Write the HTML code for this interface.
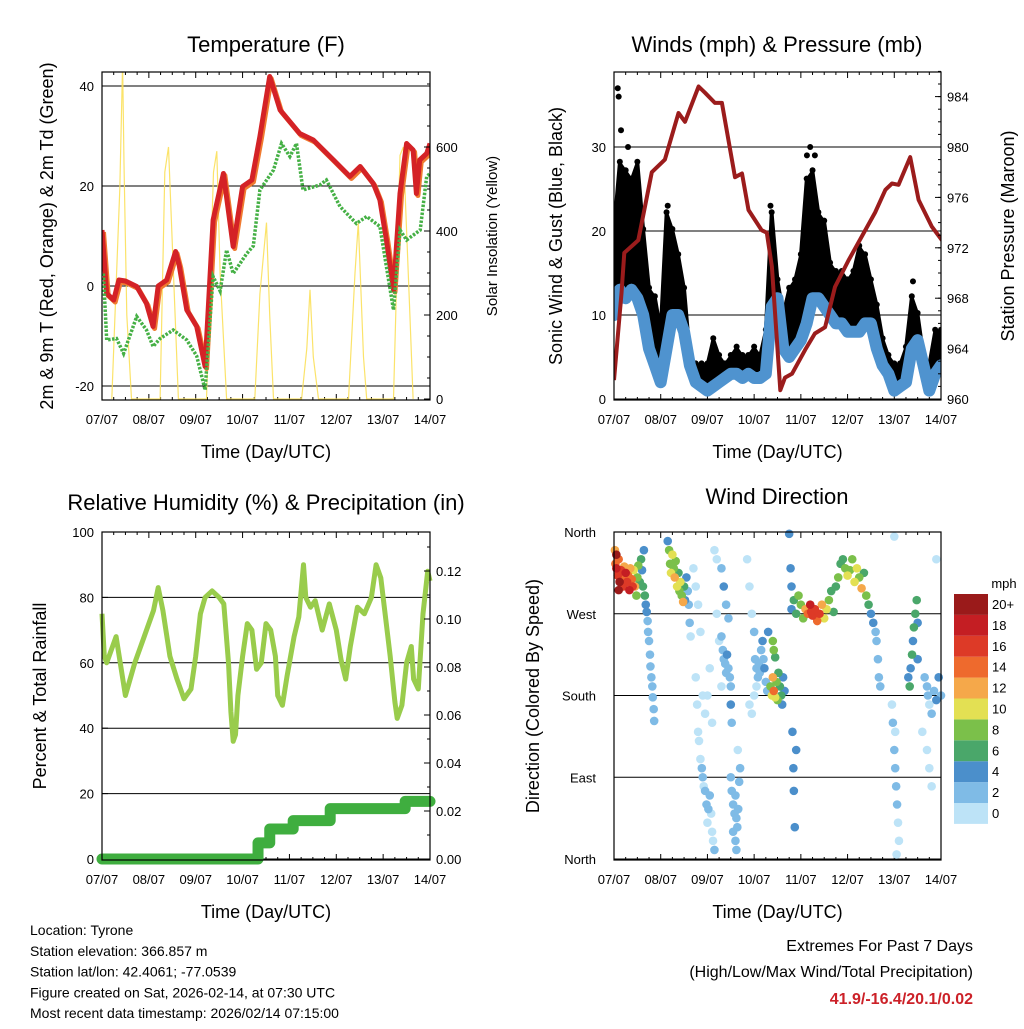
<!DOCTYPE html>
<html><head><meta charset="utf-8"><style>
html,body{margin:0;padding:0;background:#fff}
svg text{font-family:"Liberation Sans",Arial,sans-serif;fill:#000}
</style></head><body>
<svg id="s" width="1024" height="1024" viewBox="0 0 1024 1024" xmlns="http://www.w3.org/2000/svg">
<g id="g"></g>
</svg>
<script>
// ---------- DATA ----------
const dayLabels=["07/07","08/07","09/07","10/07","11/07","12/07","13/07","14/07"];
const tempTicks=[40,20,0,-20];
const solarTicks=[600,400,200,0];
const windTicks=[0,10,20,30];
const presTicks=[960,964,968,972,976,980,984];
const rhTicks=[0,20,40,60,80,100];
const precTicks=[0.00,0.02,0.04,0.06,0.08,0.10,0.12];
const dirTicks=["North","East","South","West","North"];
const speedBins=["0","2","4","6","8","10","12","14","16","18","20+"];
const speedColors=["#bde3f7","#7fbbe6","#4b8fcb","#4aa76a","#7bc04a","#e3e053","#f5a84a","#ee6a2d","#dd3a27","#c41e23","#9a1a1a"];

const tempT=[0,0.1,0.25,0.36,0.5,0.74,0.95,1.09,1.2,1.38,1.57,1.65,1.81,2.02,2.2,2.37,2.59,2.8,3.0,3.2,3.37,3.58,3.8,4.22,4.51,4.94,5.29,5.51,5.79,5.93,6.07,6.22,6.36,6.5,6.64,6.71,6.78,6.93,7.0];
const tempR=[11.2,-1.5,-2.8,1.2,1.0,-0.1,-3.5,-8.1,0,1.2,6.9,4,-4.8,-8.1,-16.1,13.2,22.5,7.9,19.9,21.2,29.9,41.9,35.2,30.5,29.2,25.2,21.9,23.9,20.5,17.2,9.2,-0.8,18.5,28.5,27.2,18.5,25.2,26.5,28.5];
const dewT=[0.03,0.1,0.31,0.46,0.74,0.95,1.09,1.24,1.52,1.81,2.02,2.2,2.37,2.52,2.66,2.8,3.09,3.23,3.37,3.66,3.83,4.01,4.15,4.29,4.65,4.79,5.08,5.43,5.65,5.93,6.07,6.22,6.36,6.5,6.79,6.93,7.0];
const dewV=[2.5,-10.8,-10.5,-13.5,-6.1,-8.8,-12.1,-10.5,-8.8,-10.8,-14,-20.8,1.9,-1,7.2,2.5,6.5,8,19.2,23.2,28.5,25.9,28.5,19.2,20.2,21.2,15.9,12.5,13.9,11.9,3.9,-4.8,11.2,9.2,11.2,21.9,22.5];
const solarT=[0.21,0.38,0.44,0.47,0.53,0.63, 1.24,1.34,1.42,1.49,1.63, 2.23,2.38,2.45,2.52,2.66, 3.26,3.37,3.51,3.58,3.66, 4.26,4.37,4.44,4.51,4.62, 5.26,5.4,5.47,5.58,5.65, 6.22,6.36,6.43,6.57,6.64];
const solarV=[0,500,800,560,200,0, 0,540,600,400,0, 0,540,590,300,0, 0,250,420,200,0, 0,120,260,100,0, 0,300,420,100,0, 0,580,600,200,0];

const windT=[0,.125,.25,.375,.5,.625,.75,.875,1,1.125,1.25,1.375,1.5,1.625,1.75,1.875,2,2.125,2.25,2.375,2.5,2.625,2.75,2.875,3,3.125,3.25,3.375,3.5,3.625,3.75,3.875,4,4.125,4.25,4.375,4.5,4.625,4.75,4.875,5,5.125,5.25,5.375,5.5,5.625,5.75,5.875,6,6.125,6.25,6.375,6.5,6.625,6.75,6.875,7];
const windMean=[10,13,12,13,12,10,6,4,2,6,10,10,8,4,2,1.5,1,1.5,2,2.5,3,3,2.5,3,2.5,2.5,3,11,12,6,5,6,7,9,12,12,11,10,9,9,8,8,8,9,9,6,4,3,1,1.5,2,6,7,4,1,3,4];
const windGust=[20,28,27,26,28,20,13,12,8,22,20,17,13,5,4,4,4,7,5,4,5,6,5,5,6,5,8,22,14,10,13,14,17,26,27,22,21,16,15,15,14,15,18,17,14,11,7,5,4,4,6,12,10,5,4,8,8];
const gustOutT=[0.08,0.1,0.15,0.3,4.13,4.2,4.3,1.15,3.35,6.4];
const gustOutV=[37,36,32,30,29,30,29,23,23,14];
const presT=[0,0.16,0.22,0.52,0.81,1.09,1.38,1.52,1.81,1.95,2.16,2.31,2.59,2.74,2.88,3.16,3.27,3.38,3.56,3.66,3.81,4.09,4.3,4.52,4.73,5.02,5.59,5.59,5.81,5.95,6.09,6.34,6.52,6.8,7.02];
const presV=[961.5,968.4,971.6,972.6,978,979,982.7,982,984.8,984.3,983.5,983.5,977.6,977.9,975,973.4,973.2,970.5,960.7,961.7,962,963.9,965.2,965.7,968.9,971,974.8,974.8,976.6,977.1,977,979.2,975.8,973.7,972.6];

const rhT=[0,0.05,0.1,0.3,0.5,0.7,0.9,1.1,1.2,1.3,1.45,1.6,1.75,1.9,2.0,2.1,2.2,2.35,2.5,2.6,2.7,2.75,2.8,2.85,2.9,3.0,3.1,3.2,3.3,3.4,3.5,3.6,3.7,3.75,3.85,3.95,4.1,4.2,4.3,4.35,4.45,4.55,4.7,4.85,5.0,5.1,5.2,5.3,5.45,5.6,5.75,5.85,5.95,6.05,6.15,6.25,6.3,6.4,6.5,6.6,6.65,6.75,6.85,6.95,7.0];
const rhV=[75,62,60,68,50,60,68,76,83,76,62,55,49,52,62,75,80,82,80,78,60,45,36,38,50,62,72,70,58,60,72,70,62,50,47,56,68,74,90,80,77,79,70,78,70,61,55,65,77,75,80,90,86,74,62,48,43,47,60,65,55,52,75,88,85];
const precT=[0,3.33,3.58,4.08,4.87,6.47,7.0];
const precV=[0,0.0067,0.0125,0.016,0.021,0.024,0.024];

const dirT=[0.02,0.03,0.05,0.08,0.1,0.12,0.15,0.18,0.2,0.22,0.25,0.28,0.3,0.33,0.35,0.38,0.4,0.42,0.45,0.48,0.5,0.52,0.55,0.58,0.6,0.62,0.64,0.66,0.68,0.7,0.72,0.73,0.75,0.77,0.78,0.8,0.82,0.83,0.85,0.86,0.05,0.1,
1.15,1.18,1.2,1.22,1.25,1.28,1.3,1.32,1.35,1.38,1.4,1.42,1.45,1.48,1.5,1.52,1.55,1.58,1.6,1.62,1.64,
1.7,1.75,1.8,1.85,1.75,1.78,1.8,1.82,1.85,1.88,1.9,1.92,1.95,1.98,2.0,2.02,2.05,2.08,2.1,2.12,2.15,2.0,2.05,2.1,2.15,2.2,2.2,2.25,2.3,1.9,1.95,
2.3,2.33,2.35,2.38,2.4,2.42,2.45,2.48,2.5,2.35,2.4,2.45,2.5,2.52,2.3,
2.5,2.52,2.55,2.58,2.6,2.62,2.64,2.66,2.55,2.6,2.62,2.68,2.7,2.65,
2.85,2.9,2.95,3.0,3.02,3.05,3.08,3.1,3.12,3.15,3.18,3.2,3.22,3.25,3.28,3.3,2.9,2.95,3.0,3.05,
3.35,3.38,3.4,3.42,3.45,3.48,3.5,3.52,3.55,3.58,3.6,3.62,3.65,3.4,3.42,3.45,
3.75,3.78,3.8,3.82,3.84,3.85,3.87,3.9,
3.8,3.85,3.9,3.95,4.0,4.05,4.1,4.15,4.2,4.25,4.3,4.35,4.4,4.45,4.5,4.55,4.6,4.65,4.7,4.22,4.32,
4.75,4.8,4.85,4.9,4.95,5.0,5.05,5.1,5.15,5.2,5.25,5.3,5.35,5.4,5.45,5.5,5.55,5.6,5.62,5.65,5.67,5.7,
5.95,5.97,6.0,6.02,6.04,6.06,6.08,6.1,6.05,6.02,6.0,
6.3,6.33,6.35,6.38,6.4,6.42,6.45,6.48,6.5,6.5,
6.65,6.7,6.72,6.75,6.8,6.85,6.9,6.95,7.0,6.7,6.75,6.8,6.6,6.9];
const dirV=[340,325,320,312,330,305,318,310,300,322,315,305,312,296,320,308,300,318,300,290,310,323,305,330,318,300,340,290,280,272,262,250,240,225,212,200,190,178,165,152,335,296,
350,340,325,315,335,320,310,328,300,315,295,305,290,283,300,285,310,295,280,260,245,
320,300,280,250,200,170,140,130,110,100,90,80,75,60,40,55,70,50,30,20,10,180,210,150,340,330,270,240,190,180,160,
245,230,220,215,205,225,210,200,190,300,280,265,170,150,320,
90,75,60,50,70,45,35,55,30,20,10,85,100,120,
330,300,270,250,220,210,200,215,205,230,240,220,210,195,185,250,170,160,180,190,
190,180,200,185,178,195,175,205,190,180,170,200,185,240,230,222,
358,320,300,140,100,75,35,120,
275,285,270,290,280,265,275,270,280,268,275,262,270,280,265,275,285,295,272,272,268,
300,310,325,330,320,312,318,330,305,320,310,298,315,290,280,270,260,250,240,220,200,190,
170,150,120,100,80,60,40,20,5,140,355,
200,190,210,225,240,255,270,285,260,220,
200,190,180,170,160,185,175,200,180,120,100,80,140,330];
const dirS=[12,14,18,16,15,20,17,14,16,13,18,17,15,18,12,14,16,10,12,9,8,9,7,6,5,6,4,7,5,4,3,2,2,3,2,2,2,2,2,2,20,21,
4,8,9,11,10,8,12,9,10,7,9,10,8,12,6,5,4,3,3,2,1,
1,0,1,0,1,0,0,1,1,2,2,1,2,2,1,3,2,0,1,0,2,1,0,1,1,0,1,1,0,0,1,
3,2,2,3,2,4,3,2,3,4,3,2,4,3,2,
3,2,3,2,3,2,3,2,2,3,2,3,3,1,
1,1,1,2,2,2,3,2,3,3,4,3,4,3,3,4,1,0,1,1,
8,10,12,14,11,9,8,7,6,7,5,4,4,8,8,6,
4,4,4,4,4,4,4,4,
5,7,6,8,9,8,12,15,18,16,17,14,16,12,11,10,8,7,6,16,15,
7,9,7,6,8,10,9,8,11,10,9,12,7,8,6,5,4,3,3,2,3,2,
1,2,2,3,2,2,1,1,0,1,0,
5,6,4,6,5,6,7,7,5,4,
2,3,2,1,2,3,4,4,3,1,1,1,1,1];

// ---------- HELPERS ----------
const NS="http://www.w3.org/2000/svg";
const root=document.getElementById('g');
function el(tag,attrs,parent,txt){const e=document.createElementNS(NS,tag);for(const k in attrs)e.setAttribute(k,attrs[k]);if(txt!==undefined)e.textContent=txt;(parent||root).appendChild(e);return e;}
function lin(d0,d1,r0,r1){return v=>r0+(v-d0)*(r1-r0)/(d1-d0);}
function pathFrom(xs,ys,fx,fy){return xs.map((t,i)=>(i?'L':'M')+fx(t).toFixed(1)+','+fy(ys[i]).toFixed(1)).join('');}
function bandPath(xs,hi,lo,fx,fy){let d=pathFrom(xs,hi,fx,fy);for(let i=xs.length-1;i>=0;i--)d+='L'+fx(xs[i]).toFixed(1)+','+fy(lo[i]).toFixed(1);return d+'Z';}

function frame(name){
  const g=el('g',{});
  
  
  return g;
}
function xAxis(g,x0,x1,y0,y1){
  const fx=lin(0,7,x0,x1);
  dayLabels.forEach((l,i)=>{
    const x=fx(i);
    el('line',{x1:x,x2:x,y1:y1,y2:y1-6,stroke:'#000','stroke-width':1},g);
    el('line',{x1:x,x2:x,y1:y0,y2:y0+6,stroke:'#000','stroke-width':1},g);
    const t=el('text',{x:x,y:y1+24,'text-anchor':'middle','font-size':13},g,l);
    
    
    if(i<7)for(let k=1;k<4;k++){const xm=fx(i+k/4);el('line',{x1:xm,x2:xm,y1:y1,y2:y1-3,stroke:'#000'},g);el('line',{x1:xm,x2:xm,y1:y0,y2:y0+3,stroke:'#000'},g);}
  });
  const t=el('text',{x:(x0+x1)/2,y:y1+58,'text-anchor':'middle','font-size':18},g,'Time (Day/UTC)');
  
  
  return fx;
}
function box(g,x0,y0,x1,y1){el('rect',{x:x0,y:y0,width:x1-x0,height:y1-y0,fill:'none',stroke:'#000','stroke-width':1.2},g);}
function title(g,x,y,txt,size){const t=el('text',{x:x,y:y,'text-anchor':'middle','font-size':size||22},g,txt);}
function vlabel(g,x,y,txt){const t=el('text',{x:x,y:y,'text-anchor':'middle','font-size':18,transform:`rotate(-90 ${x} ${y})`},g,txt);}
function vlabelR(g,x,y,txt,size){const t=el('text',{x:x,y:y,'text-anchor':'middle','font-size':size||18,transform:`rotate(-90 ${x} ${y})`},g,txt);}
function yTicksL(g,ticks,fy,x0,x1,fmt,grid){
  ticks.forEach(v=>{const y=fy(v);
    if(grid)el('line',{x1:x0,x2:x1,y1:y,y2:y,stroke:'#000','stroke-width':1},g);
    el('line',{x1:x0,x2:x0+6,y1:y,y2:y,stroke:'#000'},g);
    const t=el('text',{x:x0-8,y:y+5,'text-anchor':'end','font-size':13},g,fmt?fmt(v):String(v));
    });
}
function yTicksR(g,ticks,fy,x1,fmt,minorStep,lo,hi){
  ticks.forEach(v=>{const y=fy(v);
    el('line',{x1:x1-6,x2:x1,y1:y,y2:y,stroke:'#000'},g);
    const t=el('text',{x:x1+6,y:y+5,'text-anchor':'start','font-size':13},g,fmt?fmt(v):String(v));
    });
  if(minorStep)for(let v=lo;v<=hi+1e-9;v+=minorStep){const y=fy(v);el('line',{x1:x1-3,x2:x1,y1:y,y2:y,stroke:'#000'},g);}
}

// ---------- PANEL 1: TEMPERATURE ----------
(function(){
  const X0=102,X1=430,Y0=72,Y1=400;
  const g=frame('temperature-panel');
  const fy=lin(0,20,286,186);
  const fs=lin(0,200,399,315);
  el('clipPath',{id:'c1'},g).appendChild(el('rect',{x:X0,y:Y0,width:X1-X0,height:Y1-Y0},g));
  yTicksL(g,tempTicks,fy,X0,X1,null,true);
  const fx=xAxis(g,X0,X1,Y0,Y1);
  const cg=el('g',{'clip-path':'url(#c1)'},g);
  const sol=el('path',{d:pathFrom(solarT,solarV,fx,fs),fill:'none',stroke:'#fbe05a','stroke-width':1.2,opacity:0.9},cg);
  
  const o=el('path',{d:pathFrom(tempT,tempR,t=>fx(t)+1.5,v=>fy(v)+2),fill:'none',stroke:'#f07a30','stroke-width':5,'stroke-linejoin':'round'},cg);
  
  const r=el('path',{d:pathFrom(tempT,tempR,fx,fy),fill:'none',stroke:'#d42226','stroke-width':5,'stroke-linejoin':'round'},cg);
  
  const d=el('path',{d:pathFrom(dewT,dewV,fx,fy),fill:'none',stroke:'#45b045','stroke-width':3.5,'stroke-dasharray':'2.5 1.5'},cg);
  
  yTicksR(g,solarTicks,fs,X1,null,50,0,750);
  box(g,X0,Y0,X1,Y1);
  title(g,266,52,'Temperature (F)');
  vlabel(g,53,236,'2m & 9m T (Red, Orange) & 2m Td (Green)');
  vlabelR(g,497,236,'Solar Insolation (Yellow)',15);
})();

// ---------- PANEL 2: WINDS ----------
(function(){
  const X0=614,X1=941,Y0=72,Y1=400;
  const g=frame('winds-panel');
  const fy=lin(0,10,399,315);
  const fp=lin(960,964,399,348.6);
  el('clipPath',{id:'c2'},g).appendChild(el('rect',{x:X0,y:Y0,width:X1-X0,height:Y1-Y0},g));
  yTicksL(g,windTicks,fy,X0,X1,null,true);
  const fx=xAxis(g,X0,X1,Y0,Y1);
  const cg=el('g',{'clip-path':'url(#c2)'},g);
  const band=el('path',{d:bandPath(windT,windGust,windMean,fx,fy),fill:'#000',stroke:'#000','stroke-width':4,'stroke-linejoin':'round'},cg);
  
  windT.forEach((t,i)=>{const c=el('circle',{cx:fx(t),cy:fy(windGust[i])-2,r:3,fill:'#000'},cg);});
  gustOutT.forEach((t,i)=>{const c=el('circle',{cx:fx(t),cy:fy(gustOutV[i]),r:3,fill:'#000'},cg);});
  const b=el('path',{d:bandPath(windT,windMean,windMean,fx,v=>fy(v)),fill:'none',stroke:'#4f93cf','stroke-width':12,'stroke-linejoin':'round'},cg);
  
  const p=el('path',{d:pathFrom(presT,presV,fx,fp),fill:'none',stroke:'#9b1c1c','stroke-width':4,'stroke-linejoin':'round'},cg);
  
  yTicksR(g,presTicks,fp,X1,null,1,960,986);
  box(g,X0,Y0,X1,Y1);
  title(g,777,52,'Winds (mph) & Pressure (mb)');
  vlabel(g,562,236,'Sonic Wind & Gust (Blue, Black)');
  vlabelR(g,1014,236,'Station Pressure (Maroon)');
})();

// ---------- PANEL 3: RH ----------
(function(){
  const X0=102,X1=430,Y0=532,Y1=860;
  const g=frame('humidity-panel');
  const fy=lin(0,100,859,532);
  const fp=lin(0,0.12,859,571);
  yTicksL(g,rhTicks,fy,X0,X1,null,true);
  const fx=xAxis(g,X0,X1,Y0,Y1);
  const rh=el('path',{d:pathFrom(rhT,rhV,fx,fy),fill:'none',stroke:'#99cc4c','stroke-width':5,'stroke-linejoin':'round'},g);
  
  let sp='';precT.forEach((t,i)=>{const x=fx(t),y=fp(precV[i]);if(i===0)sp+='M'+x+','+y;else{sp+='L'+x+','+fp(precV[i-1])+'L'+x+','+y;}});
  const pr=el('path',{d:sp,fill:'none',stroke:'#3fae3f','stroke-width':11,'stroke-linecap':'round','stroke-linejoin':'round'},g);
  
  yTicksR(g,precTicks,fp,X1,v=>v.toFixed(2),0.01,0,0.13);
  box(g,X0,Y0,X1,Y1);
  title(g,266,510,'Relative Humidity (%) & Precipitation (in)');
  vlabel(g,46,696,'Percent & Total Rainfall');
})();

// ---------- PANEL 4: WIND DIRECTION ----------
(function(){
  const X0=614,X1=941,Y0=532,Y1=860;
  const g=frame('wind-direction-panel');
  const fy=lin(0,360,859,532);
  dirTicks.forEach((l,i)=>{const y=fy(i*90);
    el('line',{x1:X0,x2:X1,y1:y,y2:y,stroke:'#000'},g);
    const t=el('text',{x:X0-18,y:y+5,'text-anchor':'end','font-size':13},g,l);
    });
  const fx=xAxis(g,X0,X1,Y0,Y1);
  const cg=el('g',{},g);
  const order=dirT.map((t,i)=>i).sort((a,b)=>dirS[a]-dirS[b]);
  order.forEach(i=>{const k=Math.min(10,Math.floor(dirS[i]/2));
    const c=el('circle',{cx:fx(dirT[i]),cy:fy(dirV[i]),r:4.3,fill:speedColors[k]},cg);
    });
  box(g,X0,Y0,X1,Y1);
  title(g,777,504,'Wind Direction');
  vlabel(g,539,696,'Direction (Colored By Speed)');
  const lg=el('g',{},g);
  
  el('text',{x:1004,y:588,'text-anchor':'middle','font-size':13},lg,'mph');
  speedBins.forEach((l,i)=>{const y=803-i*20.9;
    const r=el('rect',{x:954,y:y,width:34,height:20.9,fill:speedColors[i]},lg);
    
    const t=el('text',{x:992,y:y+15,'font-size':13},lg,l);
    });
})();

// ---------- FOOTER ----------
(function(){
  const g=frame('footer-info');
  ["Location: Tyrone","Station elevation: 366.857 m","Station lat/lon: 42.4061; -77.0539","Figure created on Sat, 2026-02-14, at 07:30 UTC","Most recent data timestamp: 2026/02/14 07:15:00"].forEach((l,i)=>{
    const t=el('text',{x:30,y:935+i*20.8,'font-size':14},g,l);
    });
  const a=el('text',{x:973,y:951,'text-anchor':'end','font-size':16},g,'Extremes For Past 7 Days');
  
  const b=el('text',{x:973,y:977,'text-anchor':'end','font-size':16},g,'(High/Low/Max Wind/Total Precipitation)');
  
  const c=el('text',{x:973,y:1004,'text-anchor':'end','font-size':16,'font-weight':'bold',style:'fill:#cc2128'},g,'41.9/-16.4/20.1/0.02');
  
})();
</script>
</body></html>
